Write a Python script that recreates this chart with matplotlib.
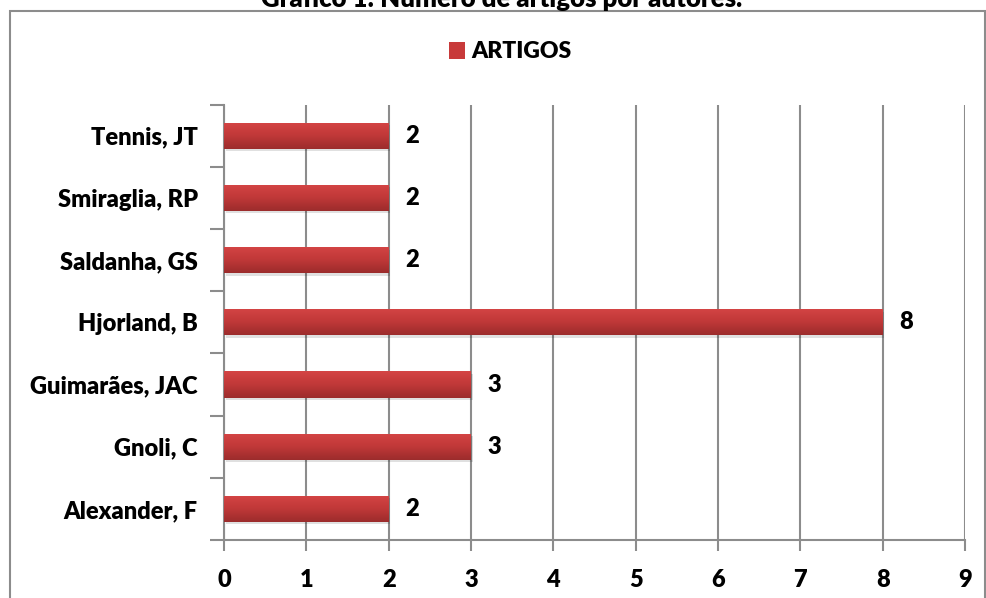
import matplotlib
matplotlib.use("Agg")
import matplotlib.pyplot as plt
import numpy as np
from matplotlib.patches import Rectangle
from matplotlib.colors import LinearSegmentedColormap

authors = ["Alexander, F", "Gnoli, C", "Guimarães, JAC", "Hjorland, B",
           "Saldanha, GS", "Smiraglia, RP", "Tennis, JT"]
artigos = [2, 3, 3, 8, 2, 2, 2]
xticks = list(range(0, 10))
series_name = "ARTIGOS"
title = "Gráfico 1: Número de artigos por autores."

plt.rcParams['font.family'] = ['Lato', 'DejaVu Sans']
plt.rcParams['font.weight'] = 'heavy'
FW = 'heavy'

fig = plt.figure(figsize=(9.87, 5.98), dpi=100)
ax = fig.add_axes([0.227, 0.097, 0.7507, 0.728])

# Border frame
frame = Rectangle((10/987, -0.05), (985-10)/987, 1 - 11/598 + 0.05, transform=fig.transFigure,
                  fill=False, edgecolor='#8c8c8c', linewidth=1.5, clip_on=False)
fig.patches.append(frame)
fig.text(0.508, 1 - 7/598, title, ha='center', va='baseline', fontsize=18.5, fontweight=FW)

y = np.arange(len(authors))
bars = ax.barh(y, artigos, height=0.42, color='#c83a3a', zorder=3)

cmap = LinearSegmentedColormap.from_list('g', ['#d44545', '#c03838', '#9c2c2c'])
grad = np.linspace(0, 1, 64).reshape(-1, 1)
for b in bars:
    x0, y0 = b.get_x(), b.get_y()
    w, h = b.get_width(), b.get_height()
    ax.add_patch(Rectangle((x0 + 0.02, y0 - 0.04), w, h, facecolor='#000000', alpha=0.12,
                           edgecolor='none', zorder=2.5))
    im = ax.imshow(grad, cmap=cmap, aspect='auto', extent=(x0, x0 + w, y0, y0 + h),
                   origin='upper', zorder=3.5)
    im.set_clip_path(b)

for yi, v in zip(y, artigos):
    ax.text(v + 0.2, yi, str(v), ha='left', va='center', fontsize=17, fontweight=FW, zorder=5)

ax.set_xlim(0, 9)
ax.set_ylim(-0.5, len(authors) - 0.5)
ax.set_xticks(xticks)
ax.set_xticklabels([str(t) for t in xticks], fontsize=17, fontweight=FW)
ax.set_yticks(y)
ax.set_yticklabels(authors, fontsize=17, fontweight=FW)
ax.set_yticks(np.arange(-0.5, len(authors), 1), minor=True)

ax.tick_params(axis='y', which='major', length=0, pad=19)
ax.tick_params(axis='y', which='minor', length=10, width=1.5, color='#8c8c8c', direction='out')
ax.tick_params(axis='x', which='major', length=8, width=1.5, color='#8c8c8c', direction='out', pad=13)

ax.grid(axis='x', color='#8c8c8c', linewidth=1.5, zorder=0)
ax.set_axisbelow(True)
for s in ['top', 'right']:
    ax.spines[s].set_visible(False)
for s in ['left', 'bottom']:
    ax.spines[s].set_color('#8c8c8c')
    ax.spines[s].set_linewidth(1.5)

leg = fig.legend([Rectangle((0, 0), 1, 1, facecolor='#c83a3a')], [series_name],
                 loc='center', bbox_to_anchor=(0.517, 1 - 52/598), frameon=False,
                 prop={'size': 16.5, 'weight': FW}, handlelength=0.7, handleheight=0.7,
                 handletextpad=0.3)

fig.savefig('out.png', dpi=100)
